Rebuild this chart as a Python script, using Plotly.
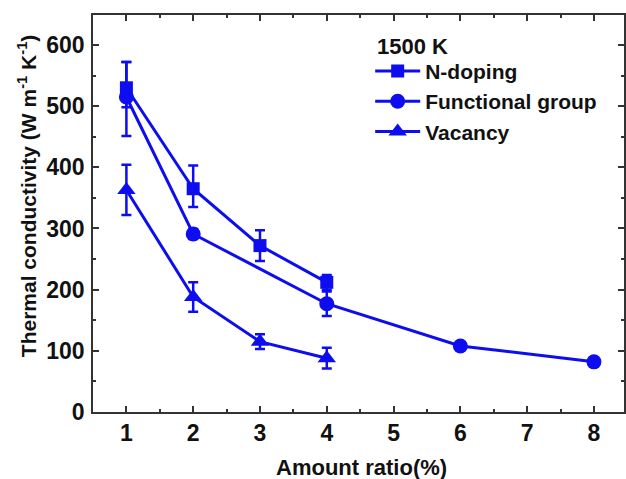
import plotly.graph_objects as go

# Data
x_n = [1, 2, 3, 4]
y_n = [530, 365, 272, 212]
err_n_plus = [42, 38, 25, 12]
err_n_minus = [32, 30, 25, 12]

x_f = [1, 2, 4, 6, 8]
y_f = [515, 291, 177, 108, 82]
err_f_plus = [57, 8, 20, 4, 3]
err_f_minus = [64, 8, 20, 4, 3]

x_v = [1, 2, 3, 4]
y_v = [363, 188, 115, 88]
err_v = [41, 24, 12, 17]

names = ["N-doping", "Functional group", "Vacancy"]
legend_title = "1500 K"
x_ticks = [1, 2, 3, 4, 5, 6, 7, 8]
y_ticks = [0, 100, 200, 300, 400, 500, 600]

BLUE = "#0d0df0"
FONT = "Liberation Sans, Arial, sans-serif"
TXT = "#111111"

fig = go.Figure()

def add(x, y, ep, em, name, symbol, size):
    fig.add_trace(go.Scatter(
        x=x, y=y, name=name, mode="lines+markers",
        line=dict(color=BLUE, width=3),
        marker=dict(symbol=symbol, size=size, color=BLUE),
        error_y=dict(type="data", array=ep, arrayminus=em, symmetric=False,
                     color=BLUE, thickness=2.5, width=5),
    ))

add(x_n, y_n, err_n_plus, err_n_minus, names[0], "square", 13)
add(x_f, y_f, err_f_plus, err_f_minus, names[1], "circle", 15)
add(x_v, y_v, err_v, err_v, names[2], "triangle-up", 16)

axis_common = dict(
    showline=True, linecolor="#333333", linewidth=1.5, mirror="allticks",
    ticks="inside", ticklen=6, tickwidth=1.5, tickcolor="#333333",
    showgrid=False, zeroline=False,
    tickfont=dict(family=FONT, size=23, color=TXT, weight="bold"),
)

fig.update_layout(
    width=626, height=479,
    margin=dict(l=93, r=0, t=15, b=67),
    plot_bgcolor="white", paper_bgcolor="white",
    showlegend=True,
    legend=dict(
        x=0.522, y=0.91, xanchor="left", yanchor="top",
        bgcolor="rgba(0,0,0,0)",
        font=dict(family=FONT, size=21, color=TXT, weight="bold"),
        tracegroupgap=0, itemwidth=45,
    ),
    xaxis=dict(
        range=[0.5, 8.45], tickvals=x_ticks, ticktext=[str(v) for v in x_ticks],
        minor=dict(ticks="inside", ticklen=3, tickwidth=1.5, tickcolor="#333333", dtick=0.5, showgrid=False),
        ticklabelstandoff=0,
        **axis_common,
    ),
    yaxis=dict(
        range=[0, 649], tickvals=y_ticks, ticktext=[str(v) for v in y_ticks],
        minor=dict(ticks="inside", ticklen=3, tickwidth=1.5, tickcolor="#333333", dtick=50, showgrid=False),
        ticklabelstandoff=2,
        **axis_common,
    ),
    annotations=[
        dict(text=legend_title, xref="paper", yref="paper", x=(376 - 93) / 533, y=(412 - 46) / 397,
             xanchor="left", yanchor="middle", showarrow=False,
             font=dict(family=FONT, size=22, color=TXT, weight="bold")),
        dict(text="Amount ratio(%)", xref="paper", yref="paper", x=0.505, y=-0.139,
             xanchor="center", yanchor="middle", showarrow=False,
             font=dict(family=FONT, size=22, color=TXT, weight="bold")),
        dict(text="Thermal conductivity (W m<sup>-1</sup> K<sup>-1</sup>)", xref="paper", yref="paper",
             x=-0.124, y=0.544, xanchor="center", yanchor="middle", textangle=-90, showarrow=False,
             font=dict(family=FONT, size=21, color=TXT, weight="bold")),
    ],
)

fig.write_html("out.html")
